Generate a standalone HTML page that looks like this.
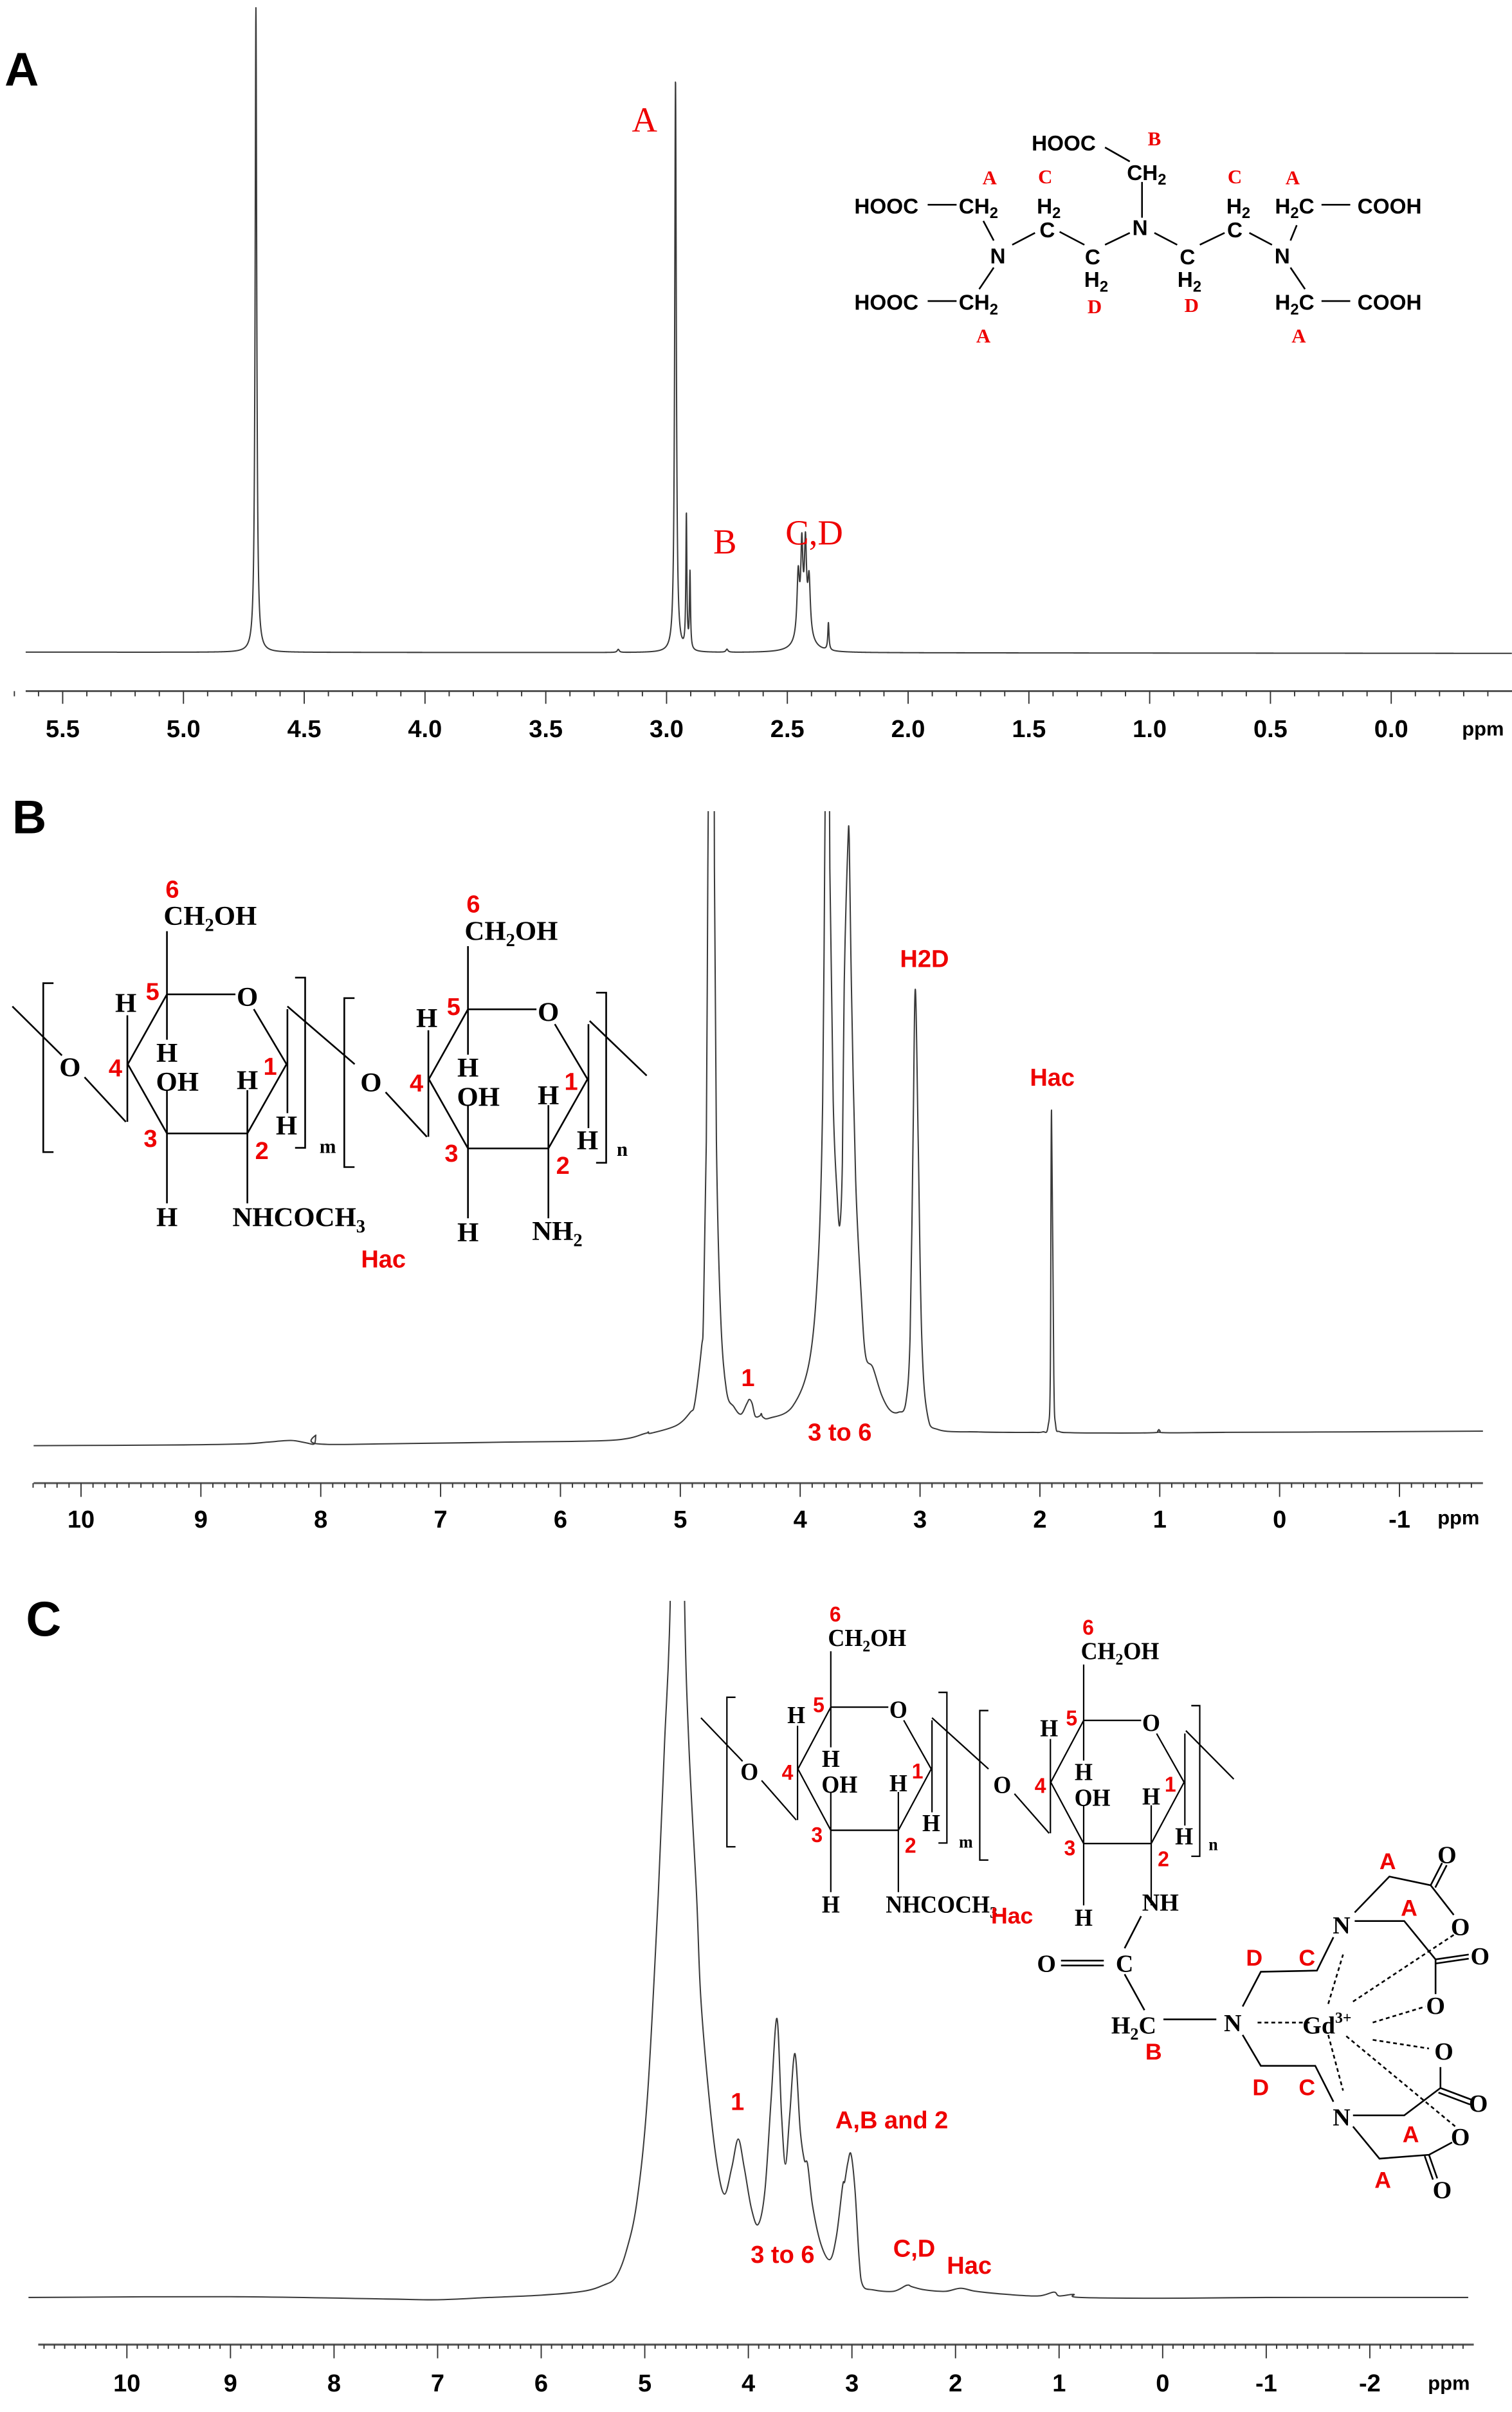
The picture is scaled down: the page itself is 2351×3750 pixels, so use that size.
<!DOCTYPE html>
<html><head><meta charset="utf-8"><style>
html,body{margin:0;padding:0;background:#fff}
svg{display:block}
.t{font-family:"Liberation Sans Narrow","Liberation Sans",sans-serif;font-weight:bold;fill:#000}
.s{font-family:"Liberation Serif",serif;font-weight:bold;fill:#000}
.rs{font-family:"Liberation Serif",serif;font-weight:bold;fill:#e00}
.r{font-family:"Liberation Sans",sans-serif;font-weight:bold;fill:#e00}
.ln{stroke:#000;stroke-width:1.1;fill:none}
.sp{stroke:#3a3a3a;stroke-width:0.85;fill:none;stroke-linejoin:round}
.ax{stroke:#555;stroke-width:1.3;fill:none}
.tk{stroke:#333;stroke-width:0.8}
</style></head><body>
<svg width="2351" height="3750" viewBox="0 0 989 1577.5" xmlns="http://www.w3.org/2000/svg">
<defs>
<clipPath id="clipB"><rect x="0" y="530.5" width="989" height="500"/></clipPath>
<clipPath id="clipC"><rect x="0" y="1047" width="989" height="500"/></clipPath>
<g id="ring">
 <path class="ln" d="M109.2 650.3 H154 M166 660 L187.4 696 L161.8 741.3 H109.2 L83.6 696 L109.2 650.3 M109.2 650.3 V609 M109.2 650.3 V680 M109.2 713 V787 M161.8 741.3 V713 M161.8 741.3 V787 M83.3 664 V733.7 M55.3 704.5 L82.3 733.7 M188 660 V728 M35 643 H28.3 V753.5 H35 M193 639.4 H199.6 V750.7 H193"/>
 <text class="s" font-size="18" x="137.5" y="605" text-anchor="middle">CH<tspan font-size="12" dy="4">2</tspan><tspan dy="-4">OH</tspan></text>
 <text class="s" font-size="18" x="82.3" y="662" text-anchor="middle">H</text>
 <text class="s" font-size="18" x="161.8" y="658" text-anchor="middle">O</text>
 <text class="s" font-size="18" x="45.8" y="704" text-anchor="middle">O</text>
 <text class="s" font-size="18" x="109.2" y="694.5" text-anchor="middle">H</text>
 <text class="s" font-size="18" x="116" y="713.5" text-anchor="middle">OH</text>
 <text class="s" font-size="18" x="161.8" y="712.5" text-anchor="middle">H</text>
 <text class="s" font-size="18" x="187.4" y="742" text-anchor="middle">H</text>
 <text class="s" font-size="18" x="109.2" y="802" text-anchor="middle">H</text>
 <text class="r" font-size="16" x="112.7" y="587" text-anchor="middle">6</text>
 <text class="r" font-size="16" x="99.8" y="654" text-anchor="middle">5</text>
 <text class="r" font-size="16" x="75.5" y="704" text-anchor="middle">4</text>
 <text class="r" font-size="16" x="176.7" y="703" text-anchor="middle">1</text>
 <text class="r" font-size="16" x="98.4" y="750" text-anchor="middle">3</text>
 <text class="r" font-size="16" x="171.3" y="758" text-anchor="middle">2</text>
</g>
<g id="sugar">
 <use href="#ring"/>
 <use href="#ring" transform="translate(196.9,9.8)"/>
 <path class="ln" d="M8.1 658.2 L40.5 690.3 M188 658.2 L232 696 M385.7 667.7 L423 703.5"/>
 <text class="s" font-size="18" x="152" y="802">NHCOCH<tspan font-size="12" dy="4">3</tspan></text>
 <text class="s" font-size="13" x="214.4" y="754" text-anchor="middle">m</text>
 <text class="s" font-size="13" x="407" y="756" text-anchor="middle">n</text>
</g>
</defs>

<!-- ================= PANEL A ================= -->
<text class="t" font-size="31" x="3" y="56" font-family="Liberation Sans">A</text>
<path id="specA" class="sp" d=""/>
<line class="ax" x1="16.8" y1="452" x2="989" y2="452"/>
<g id="ticksA"></g>
<text class="t" font-size="13" x="970" y="481" text-anchor="middle">ppm</text>
<text class="rs" font-size="23" x="421.6" y="86" text-anchor="middle" style="font-weight:normal">A</text>
<text class="rs" font-size="23" x="474.2" y="362" text-anchor="middle" style="font-weight:normal">B</text>
<text class="rs" font-size="23" x="532.6" y="356" text-anchor="middle" style="font-weight:normal">C,D</text>
<g font-size="14">
<text class="t" x="695.8" y="98.5" text-anchor="middle">HOOC</text>
<text class="rs" x="755.1" y="95" text-anchor="middle" font-size="13">B</text>
<text class="t" x="750" y="117.7" text-anchor="middle">CH<tspan font-size="10" dy="3">2</tspan></text>
<text class="rs" x="647.3" y="120.5" text-anchor="middle" font-size="13">A</text>
<text class="rs" x="683.7" y="119.8" text-anchor="middle" font-size="13">C</text>
<text class="rs" x="807.7" y="119.8" text-anchor="middle" font-size="13">C</text>
<text class="rs" x="845.5" y="120.5" text-anchor="middle" font-size="13">A</text>
<text class="t" x="579.8" y="139.6" text-anchor="middle">HOOC</text>
<text class="t" x="640" y="139.6" text-anchor="middle">CH<tspan font-size="10" dy="3">2</tspan></text>
<text class="t" x="686" y="139.6" text-anchor="middle">H<tspan font-size="10" dy="3">2</tspan></text>
<text class="t" x="810" y="139.6" text-anchor="middle">H<tspan font-size="10" dy="3">2</tspan></text>
<text class="t" x="846.8" y="139.6" text-anchor="middle">H<tspan font-size="10" dy="3">2</tspan><tspan dy="-3">C</tspan></text>
<text class="t" x="908.9" y="139.6" text-anchor="middle">COOH</text>
<text class="t" x="685" y="155.2" text-anchor="middle">C</text>
<text class="t" x="745.7" y="153.8" text-anchor="middle">N</text>
<text class="t" x="807.7" y="155.2" text-anchor="middle">C</text>
<text class="t" x="652.7" y="172.2" text-anchor="middle">N</text>
<text class="t" x="838.7" y="172.2" text-anchor="middle">N</text>
<text class="t" x="714.7" y="172.9" text-anchor="middle">C</text>
<text class="t" x="776.7" y="172.9" text-anchor="middle">C</text>
<text class="t" x="717" y="187.7" text-anchor="middle">H<tspan font-size="10" dy="3">2</tspan></text>
<text class="t" x="778" y="187.7" text-anchor="middle">H<tspan font-size="10" dy="3">2</tspan></text>
<text class="t" x="579.8" y="202.6" text-anchor="middle">HOOC</text>
<text class="t" x="640" y="202.6" text-anchor="middle">CH<tspan font-size="10" dy="3">2</tspan></text>
<text class="t" x="846.8" y="202.6" text-anchor="middle">H<tspan font-size="10" dy="3">2</tspan><tspan dy="-3">C</tspan></text>
<text class="t" x="908.9" y="202.6" text-anchor="middle">COOH</text>
<text class="rs" x="716" y="204.8" text-anchor="middle" font-size="13">D</text>
<text class="rs" x="779.4" y="204" text-anchor="middle" font-size="13">D</text>
<text class="rs" x="643.2" y="223.9" text-anchor="middle" font-size="13">A</text>
<text class="rs" x="849.5" y="223.9" text-anchor="middle" font-size="13">A</text>
</g>
<path class="ln" d="M722.8 96.4 L739 105.6 M747 119 V142.4 M606.8 133.9 H625.7 M606.8 196.9 H625.7 M864.4 133.9 H883.2 M864.4 196.9 H883.2 M643.2 144.5 L650 157.3 M650 175 L640.5 189.1 M662.1 160.1 L677 152.3 M693.1 151.6 L709.3 160.1 M722.8 160.1 L739 152.3 M755.1 152.3 L770 160.1 M784.8 160.1 L801 152.3 M817.2 152.3 L832 160.1 M848.2 147.3 L844.1 157.3 M844.1 175 L853.6 189.1"/>

<!-- ================= PANEL B ================= -->
<text class="t" font-size="31" x="8" y="545" font-family="Liberation Sans">B</text>
<path id="specB" class="sp" d="" clip-path="url(#clipB)"/>
<line class="ax" x1="22" y1="970" x2="970" y2="970"/>
<g id="ticksB"></g>
<text class="t" font-size="13" x="954" y="997" text-anchor="middle">ppm</text>
<text class="r" font-size="16" x="604.7" y="632.5" text-anchor="middle">H2D</text>
<text class="r" font-size="16" x="688.3" y="710" text-anchor="middle">Hac</text>
<text class="r" font-size="16" x="489.2" y="906.5" text-anchor="middle">1</text>
<text class="r" font-size="16" x="549.3" y="942" text-anchor="middle">3 to 6</text>
<use href="#sugar"/>
<text class="s" font-size="18" x="348" y="811">NH<tspan font-size="12" dy="4">2</tspan></text>
<text class="r" font-size="16" x="250.8" y="829" text-anchor="middle">Hac</text>

<!-- ================= PANEL C ================= -->
<text class="t" font-size="32" x="17" y="1070" font-family="Liberation Sans">C</text>
<path id="specC" class="sp" d="" clip-path="url(#clipC)"/>
<line class="ax" x1="25" y1="1533.4" x2="964" y2="1533.4"/>
<g id="ticksC"></g>
<text class="t" font-size="13" x="947.7" y="1563" text-anchor="middle">ppm</text>
<text class="r" font-size="16" x="482.4" y="1380" text-anchor="middle">1</text>
<text class="r" font-size="16" x="583.3" y="1392" text-anchor="middle">A,B and 2</text>
<text class="r" font-size="16" x="511.9" y="1480" text-anchor="middle">3 to 6</text>
<text class="r" font-size="16" x="598" y="1476" text-anchor="middle">C,D</text>
<text class="r" font-size="16" x="634" y="1487" text-anchor="middle">Hac</text>
<use href="#sugar" transform="matrix(0.84,0,0,0.885,451.7,541)"/>
<text class="s" font-size="16" x="759" y="1249.5" text-anchor="middle">NH</text>
<text class="r" font-size="15" x="662" y="1258" text-anchor="middle">Hac</text>
<g>
<path class="ln" d="M746.4 1253.2 L735.6 1274.2 M694 1282.3 H722 M694 1285.5 H722 M735.6 1291.2 L748.6 1314.7 M761 1320.7 H795.6 M812.8 1312.3 L824.7 1289.6 L861.4 1288.8 L872.2 1267 M812.8 1330.9 L824.7 1351.1 L860.3 1351.1 L872.2 1374.6 M886.1 1250.8 L908.8 1227.3 L935.8 1233 L950.9 1252.4 M935.8 1233 L943.3 1218.4 M938.8 1234.5 L946.3 1219.9 M886.1 1256.4 H918.5 L939 1281.5 L960.7 1278.3 M939 1284.2 L960.7 1281 M939 1281.5 V1304.2 M885 1383.5 H918.5 L942.2 1365.6 V1351.9 M942.2 1365.6 L962.9 1373.4 M940.9 1368.6 L961.6 1376.4 M885 1390.8 L902.3 1411.8 L934.7 1409.3 L949.8 1401.2 M934.7 1409.3 L940.1 1424.7 M931.9 1410.1 L937.3 1425.5"/>
<path class="ln" stroke-dasharray="2.5,2" d="M822.6 1322.8 H858.2 M868.8 1310.6 L878.5 1278.3 M868.8 1330.9 L878.5 1367.3 M885 1309.1 L951 1265.4 M897.9 1322.8 L932.4 1312.3 M897.9 1334.1 L934.7 1339.8 M880.6 1331.7 L951.8 1390.7"/>
<text class="s" font-size="16" x="735.6" y="1289.5" text-anchor="middle">C</text>
<text class="s" font-size="16" x="684.5" y="1289.5" text-anchor="middle">O</text>
<text class="s" font-size="16" x="741.6" y="1330" text-anchor="middle">H<tspan font-size="11" dy="4">2</tspan><tspan dy="-4">C</tspan></text>
<text class="r" font-size="15" x="754.6" y="1347" text-anchor="middle">B</text>
<text class="s" font-size="16" x="806.3" y="1328.5" text-anchor="middle">N</text>
<text class="s" font-size="16" x="868" y="1330" text-anchor="middle">Gd<tspan font-size="10" dy="-7">3+</tspan></text>
<text class="s" font-size="16" x="877.5" y="1264.6" text-anchor="middle">N</text>
<text class="s" font-size="16" x="877.5" y="1390" text-anchor="middle">N</text>
<text class="r" font-size="15" x="820.4" y="1285.5" text-anchor="middle">D</text>
<text class="r" font-size="15" x="854.9" y="1285.5" text-anchor="middle">C</text>
<text class="r" font-size="15" x="824.6" y="1370.4" text-anchor="middle">D</text>
<text class="r" font-size="15" x="854.9" y="1370.4" text-anchor="middle">C</text>
<text class="r" font-size="15" x="907.7" y="1222.4" text-anchor="middle">A</text>
<text class="r" font-size="15" x="921.7" y="1253" text-anchor="middle">A</text>
<text class="r" font-size="15" x="922.8" y="1401" text-anchor="middle">A</text>
<text class="r" font-size="15" x="904.5" y="1431" text-anchor="middle">A</text>
<text class="s" font-size="16" x="946.5" y="1218.5" text-anchor="middle">O</text>
<text class="s" font-size="16" x="955.2" y="1265.5" text-anchor="middle">O</text>
<text class="s" font-size="16" x="968.1" y="1284.7" text-anchor="middle">O</text>
<text class="s" font-size="16" x="939" y="1317.2" text-anchor="middle">O</text>
<text class="s" font-size="16" x="944.4" y="1347" text-anchor="middle">O</text>
<text class="s" font-size="16" x="967" y="1381" text-anchor="middle">O</text>
<text class="s" font-size="16" x="955.2" y="1403" text-anchor="middle">O</text>
<text class="s" font-size="16" x="943.3" y="1437.7" text-anchor="middle">O</text>
</g>
</svg>
<script>
(function(){
function lor(p,pk){var s=0;for(var i=0;i<pk.length;i++){var d=(p-pk[i][0])/pk[i][2];s+=pk[i][1]/(1+d*d);}return s;}
var pkA=[[4.70,421.6,0.004],[2.963,374.7,0.004],[2.918,88,0.0025],[2.903,50,0.0025],[2.455,40,0.006],[2.44,52,0.005],[2.425,52,0.005],[2.41,35,0.006],[2.43,16,0.03],[2.33,18,0.003],[3.2,2,0.005],[2.75,2,0.005]];
var d=[];for(var x=16.8;x<=989;x+=0.1){var p=(910-x)/158;var b=426.5+(x-16.8)/972*0.8;var y=b-lor(p,pkA);d.push((d.length?"L":"M")+x.toFixed(2)+" "+y.toFixed(2));}
document.getElementById("specA").setAttribute("d",d.join(""));
function cr(pts){var s="M"+pts[0][0]+" "+pts[0][1];for(var i=0;i<pts.length-1;i++){var p0=pts[i-1]||pts[i],p1=pts[i],p2=pts[i+1],p3=pts[i+2]||p2;
var c1x=p1[0]+(p2[0]-p0[0])/6,c1y=p1[1]+(p2[1]-p0[1])/6,c2x=p2[0]-(p3[0]-p1[0])/6,c2y=p2[1]-(p3[1]-p1[1])/6;
s+="C"+c1x.toFixed(2)+" "+c1y.toFixed(2)+" "+c2x.toFixed(2)+" "+c2y.toFixed(2)+" "+p2[0].toFixed(2)+" "+p2[1].toFixed(2);}return s;}
var pB=[[22,945.5],[120,945],[160,944.3],[175,943.2],[190.3,942.1],[200,943.6],[205.6,944.3],[206.6,938.6],[207.6,944.3],[260,944.2],[330,943.2],[400,942],[422,937.5],[424,936.5],[426,937.3],[442.6,932.2],[451.5,923.7],[454.5,917.3],[458.9,881],[460.1,861],[462,746.4],[463,568],[464,420],[466.5,300],[467.3,568],[468.6,746],[471.4,861],[475.2,909.6],[480,920],[484.6,924.9],[488.5,918],[490.2,915.2],[492,918],[494,926.2],[497,926],[498,924.5],[499,926.8],[503.3,927.5],[518.4,919.8],[529.6,889.2],[535.3,822.9],[538.1,720.9],[539.4,568],[540.5,420],[541.5,300],[542.8,568],[545,720],[547.5,780],[549.3,801.2],[551,760],[552.2,644.4],[554.5,555],[555.5,549],[556.9,644.4],[559.7,771.9],[563.4,848.4],[566.2,886.7],[570.9,894.3],[576.6,912.2],[582.2,922.3],[587.8,923.6],[592.5,917.3],[595.3,873.9],[597.2,746.4],[598.7,647],[600.6,746.4],[602.9,873.9],[606.6,924.9],[614.1,935.1],[640,936.5],[660,936.8],[675,936.8],[682,936.5],[685.5,933],[687,899.4],[687.8,726],[689.3,899.4],[690.5,932],[693,936.3],[700,937],[715.2,937.2],[755,937],[758,935],[761,937],[800,936.8],[880,936.5],[970,936]];
document.getElementById("specB").setAttribute("d",cr(pB));
var hC=[[10.95,0],[9,0.5],[7.5,-1],[7,-1.5],[6.5,0],[6.0,1.5],[5.6,4],[5.4,8],[5.28,13.3],[5.18,30],[5.076,62.6],[4.974,131.6],[4.87,263],[4.81,361],[4.755,453],[4.72,650],[4.685,720],[4.65,650],[4.615,453],[4.574,361],[4.5,263],[4.46,197],[4.38,131.6],[4.30,86],[4.23,67.6],[4.16,85],[4.098,103.6],[4.04,85],[3.97,58],[3.905,47.8],[3.84,70],[3.78,130],[3.724,182.5],[3.68,120],[3.642,87.2],[3.6,120],[3.55,159.5],[3.5,110],[3.46,90],[3.428,87.2],[3.38,60],[3.3,35],[3.213,24.8],[3.15,40],[3.09,73],[3.07,75.7],[3.04,88],[3.009,93.8],[2.97,70],[2.93,25],[2.896,8],[2.8,5],[2.6,4],[2.47,8],[2.42,7],[2.3,5],[2.1,4],[1.95,6],[1.8,4],[1.5,2],[1.2,1],[1.05,3.5],[1.0,1],[0.86,2],[0.8,0],[0,-0.5],[-1,0],[-2.95,0]];
var pC=hC.map(function(a){return [760.5-a[0]*67.75,1502.6-a[1]];});
document.getElementById("specC").setAttribute("d",cr(pC));
function ticks(id,axY,f,p0,p1,minor,major,labStep,dec,labY,majLen,minLen){var g=document.getElementById(id),s="";
for(var k=Math.round(p1/minor);k<=Math.round(p0/minor);k++){var p=k*minor;var x=f(p);var isM=Math.abs(p/major-Math.round(p/major))<1e-6;
s+='<line class="tk" x1="'+x.toFixed(2)+'" y1="'+axY+'" x2="'+x.toFixed(2)+'" y2="'+(axY+(isM?majLen:minLen))+'"/>';
if(Math.abs(p/labStep-Math.round(p/labStep))<1e-6){s+='<text class="t" font-size="16" text-anchor="middle" x="'+x.toFixed(2)+'" y="'+labY+'">'+p.toFixed(dec)+'</text>';}}
g.innerHTML=s;}
ticks("ticksA",452,function(p){return 910-p*158;},5.65,-0.45,0.1,0.5,0.5,1,482,8.3,3.4);
ticks("ticksB",970,function(p){return 837-p*78.4;},10.4,-1.6,0.1,1,1,0,999,9,3);
ticks("ticksC",1533.4,function(p){return 760.5-p*67.75;},10.8,-2.9,0.1,1,1,0,1564,9,2.8);
})();
</script>
</body></html>
